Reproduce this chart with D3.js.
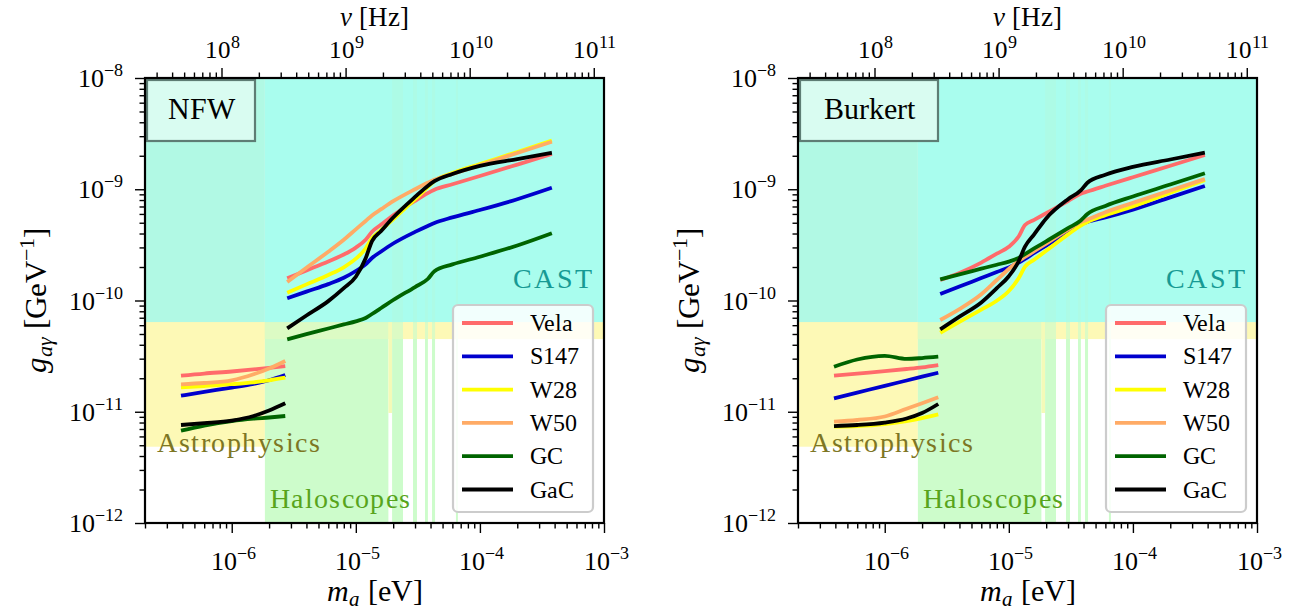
<!DOCTYPE html>
<html><head><meta charset="utf-8">
<script src="https://cdn.jsdelivr.net/npm/d3@7"></script>
<style>
@font-face{font-family:"SerifX";font-style:normal;src:local("Liberation Serif"),local("LiberationSerif"),local("LiberationSerif-Regular"),local("DejaVu Serif"),local("DejaVuSerif");}
@font-face{font-family:"SerifX";font-style:italic;src:local("Liberation Serif Italic"),local("LiberationSerif-Italic"),local("DejaVu Serif Italic"),local("DejaVuSerif-Italic");}
body{margin:0;background:#fff;}
</style>
</head><body>
<svg id="c" width="1295" height="612"></svg>
<script>
// ---------- data ----------
const seriesNames = ["Vela","S147","W28","W50","GC","GaC"];
const seriesColors = ["#ff6b6b","#0000cd","#ffff00","#ffab66","#006400","#000000"];
const massLow  = [3.9e-7, 6e-7, 1e-6, 1.5e-6, 2e-6, 2.7e-6];
const massHigh = [2.8e-6,4e-6,6e-6,8e-6,1e-5,1.2e-5,1.35e-5,1.6e-5,2e-5,3e-5,3.8e-5,4.3e-5,6e-5,1e-4,2e-4,3.8e-4];

// NFW profile, g_agamma [GeV^-1]
const nfwVelaLow = [2.108e-11,2.206e-11,2.30e-11,2.40e-11,2.483e-11,2.577e-11];
const nfwS147Low = [1.394e-11,1.508e-11,1.651e-11,1.783e-11,1.921e-11,2.139e-11];
const nfwW28Low  = [1.658e-11,1.703e-11,1.768e-11,1.839e-11,1.917e-11,2.022e-11];
const nfwW50Low  = [1.765e-11,1.813e-11,1.917e-11,2.17e-11,2.447e-11,2.858e-11];
const nfwGCLow   = [6.76e-12,7.52e-12,8.25e-12,8.66e-12,8.88e-12,9.16e-12];
const nfwGaCLow  = [7.60e-12,7.89e-12,8.34e-12,9.16e-12,1.026e-11,1.191e-11];

const nfwVelaHigh = [1.583e-10,1.864e-10,2.246e-10,2.59e-10,2.99e-10,3.52e-10,4.15e-10,4.81e-10,5.83e-10,7.86e-10,9.23e-10,9.91e-10,1.108e-9,1.315e-9,1.665e-9,2.074e-9];
const nfwS147High = [1.046e-10,1.202e-10,1.404e-10,1.600e-10,1.841e-10,2.115e-10,2.410e-10,2.757e-10,3.253e-10,4.135e-10,4.683e-10,4.973e-10,5.58e-10,6.51e-10,8.14e-10,1.032e-9];
const nfwW28High  = [1.175e-10,1.396e-10,1.695e-10,1.988e-10,2.375e-10,2.934e-10,3.63e-10,4.30e-10,5.37e-10,8.14e-10,1.045e-9,1.186e-9,1.400e-9,1.686e-9,2.162e-9,2.743e-9];
const nfwW50High  = [1.466e-10,1.972e-10,2.745e-10,3.52e-10,4.36e-10,5.19e-10,5.82e-10,6.62e-10,7.81e-10,1.001e-9,1.143e-9,1.216e-9,1.371e-9,1.645e-9,2.118e-9,2.676e-9];
const nfwGCHigh   = [4.48e-11,4.98e-11,5.60e-11,6.10e-11,6.50e-11,6.96e-11,7.56e-11,8.56e-11,1.010e-10,1.322e-10,1.560e-10,1.833e-10,2.11e-10,2.475e-10,3.12e-10,4.02e-10];
const nfwGaCHigh  = [5.62e-11,7.33e-11,9.87e-11,1.290e-10,1.636e-10,2.395e-10,3.42e-10,4.22e-10,5.57e-10,8.53e-10,1.072e-9,1.181e-9,1.371e-9,1.621e-9,1.870e-9,2.13e-9];

// Burkert profile
const burVelaLow = [2.108e-11,2.202e-11,2.314e-11,2.422e-11,2.509e-11,2.63e-11];
const burS147Low = [1.321e-11,1.486e-11,1.711e-11,1.909e-11,2.065e-11,2.243e-11];
const burW28Low  = [7.34e-12,7.44e-12,7.76e-12,8.25e-12,8.78e-12,9.48e-12];
const burW50Low  = [8.14e-12,8.43e-12,9.06e-12,1.063e-11,1.191e-11,1.348e-11];
const burGCLow   = [2.54e-11,2.949e-11,3.184e-11,2.99e-11,3.04e-11,3.125e-11];
const burGaCLow  = [7.44e-12,7.60e-12,8.00e-12,8.70e-12,9.74e-12,1.174e-11];

const burVelaHigh = [1.528e-10,1.767e-10,2.191e-10,2.634e-10,3.038e-10,3.76e-10,4.77e-10,5.30e-10,6.09e-10,7.84e-10,9.10e-10,9.54e-10,1.074e-9,1.283e-9,1.628e-9,2.032e-9];
const burS147High = [1.144e-10,1.336e-10,1.59e-10,1.80e-10,1.98e-10,2.186e-10,2.37e-10,2.673e-10,3.12e-10,4.135e-10,4.88e-10,5.09e-10,5.58e-10,6.55e-10,8.45e-10,1.070e-9];
const burW28High  = [5.13e-11,6.42e-11,8.28e-11,9.94e-11,1.217e-10,1.587e-10,2.013e-10,2.322e-10,2.797e-10,3.928e-10,4.72e-10,5.08e-10,5.84e-10,7.00e-10,9.29e-10,1.211e-9];
const burW50High  = [6.68e-11,8.38e-11,1.139e-10,1.528e-10,1.919e-10,2.265e-10,2.46e-10,2.774e-10,3.246e-10,4.33e-10,5.08e-10,5.35e-10,6.22e-10,7.54e-10,9.74e-10,1.236e-9];
const burGCHigh   = [1.551e-10,1.72e-10,1.931e-10,2.097e-10,2.237e-10,2.419e-10,2.617e-10,2.934e-10,3.405e-10,4.466e-10,5.236e-10,5.99e-10,7.08e-10,8.61e-10,1.103e-9,1.391e-9];
const burGaCHigh  = [5.51e-11,7.15e-11,9.59e-11,1.290e-10,1.653e-10,2.251e-10,3.044e-10,3.928e-10,5.47e-10,8.14e-10,9.76e-10,1.145e-9,1.351e-9,1.591e-9,1.851e-9,2.13e-9];

// Exclusion regions
const castLimit = 6.4e-11;           // CAST: g above this
const astroBandLow = 4.5e-11;        // astrophysics band across all masses
const astroLowMassEdge = 1.85e-6;    // astrophysics (low mass) region edge
const astroLowMassG = 4.85e-12;
const haloMain = [1.85e-6, 1.83e-5];
const haloYellowCol = [1.83e-5, 1.96e-5, 9.75e-12];
const haloStrips = [[1.96e-5,2.40e-5],[2.89e-5,3.11e-5],[3.61e-5,3.81e-5],[4.11e-5,4.35e-5],[6.41e-5,6.65e-5]];

const xTickMajor = [1e-6,1e-5,1e-4,1e-3];
const xTickExp = ["−6","−5","−4","−3"];
const yTickMajor = [1e-12,1e-11,1e-10,1e-9,1e-8];
const yTickExp = ["−12","−11","−10","−9","−8"];
const nuTickMajor = [1e8,1e9,1e10,1e11];
const nuTickExp = ["8","9","10","11"];
const evPerHz = 8.27e-15;

const xDomain = [2e-7, 1e-3];
const yDomain = [1e-12, 1e-8];

// ---------- drawing ----------
const FONT = "'SerifX', 'Liberation Serif', 'Times New Roman', 'DejaVu Serif', serif";
const svg = d3.select("#c");

function txt(sel, x, y, size, anchor){
  return sel.append("text").attr("x", x).attr("y", y).attr("text-anchor", anchor || "start")
    .attr("font-family", FONT).style("font-family", FONT).style("font-size", size+"px").style("fill", "#000");
}
function sup(sel, base, exp, x, y, anchor, size){
  const t = txt(sel, x, y, size, anchor);
  t.append("tspan").text(base);
  t.append("tspan").attr("dy", -size*0.42).style("font-size", (size*0.7)+"px").text(exp);
  return t;
}

function panel(left, label, boxW, data){
  const right = left + 459, top = 78, bottom = 523;
  const x = d3.scaleLog().domain(xDomain).range([left, right]);
  const y = d3.scaleLog().domain(yDomain).range([bottom, top]);
  const g = svg.append("g");

  const rect = (m0, m1, g0, g1, col) => g.append("rect")
    .attr("x", x(m0)).attr("width", x(m1)-x(m0))
    .attr("y", y(g1)).attr("height", y(g0)-y(g1)).attr("fill", col);
  // astrophysics
  rect(xDomain[0], astroLowMassEdge, astroLowMassG, castLimit, "#fdf9b6");
  rect(xDomain[0], xDomain[1], astroBandLow, castLimit, "#fdf9b6");
  // haloscopes
  rect(haloMain[0], haloMain[1], yDomain[0], castLimit, "#cdfccb");
  rect(haloMain[0], haloMain[1], astroBandLow, castLimit, "#dcfbc4");
  rect(haloYellowCol[0], haloYellowCol[1], haloYellowCol[2], castLimit, "#f4fab8");
  haloStrips.forEach(s => {
    rect(s[0], s[1], yDomain[0], castLimit, "#cdfccb");
    rect(s[0], s[1], astroBandLow, castLimit, "#dcfbc4");
  });
  // CAST
  rect(xDomain[0], astroLowMassEdge, castLimit, yDomain[1], "#b1f9e4");
  rect(astroLowMassEdge, xDomain[1], castLimit, yDomain[1], "#a9fdee");
  haloStrips.forEach(s => rect(s[0], s[1], castLimit, yDomain[1], "#adfbe6"));

  // region labels
  txt(g, x(8.0e-4), y(1.29e-10), 28, "end").attr("textLength", 79).style("fill","#179a94").text("CAST");
  txt(g, x(2.5e-7), y(4.35e-12), 28).attr("textLength", 163).style("fill","#7d7624").text("Astrophysics");
  txt(g, x(2.03e-6), y(1.365e-12), 28).attr("textLength", 140).style("fill","#58a41c").text("Haloscopes");

  // curves
  const line = d3.line().x(d => x(d[0])).y(d => y(d[1])).curve(d3.curveMonotoneX);
  data.forEach((s, i) => {
    [[massLow, s[0]], [massHigh, s[1]]].forEach(([ms, gs]) => {
      g.append("path").datum(ms.map((m, j) => [m, gs[j]]))
        .attr("d", line).attr("fill","none").attr("stroke", seriesColors[i])
        .attr("stroke-width", 3.8).attr("stroke-linejoin","round");
    });
  });

  // profile label box
  g.append("rect").attr("x", left+2).attr("y", top+2).attr("width", boxW).attr("height", 61)
    .attr("fill","#d9fcf1").attr("stroke","#5e7d74").attr("stroke-width",2.2);
  txt(g, left+2+boxW/2, top+41, 30, "middle").text(label);

  // legend
  const lx = left + 308, ly = 305;
  g.append("rect").attr("x", lx).attr("y", ly).attr("width", 140).attr("height", 207).attr("rx", 5)
    .attr("fill","#fff").attr("fill-opacity",0.85).attr("stroke","#cccccc").attr("stroke-width",2.2);
  seriesNames.forEach((n, i) => {
    const yy = ly + 18 + i*33.3;
    g.append("line").attr("x1", lx+9).attr("x2", lx+60).attr("y1", yy).attr("y2", yy)
      .attr("stroke", seriesColors[i]).attr("stroke-width", 3.8);
    txt(g, lx+77, yy+8, 24).text(n);
  });

  // axes
  const isMinor = v => Math.abs(Math.log10(v) - Math.round(Math.log10(v))) > 1e-6;
  const minorX = x.ticks().filter(isMinor);
  const minorY = y.ticks().filter(isMinor);
  const nu = d3.scaleLog().domain([xDomain[0]/evPerHz, xDomain[1]/evPerHz]).range([left, right]);
  const minorNu = nu.ticks().filter(isMinor);

  const styleAxis = a => { a.select(".domain").remove(); a.selectAll("line").attr("stroke","#000").attr("stroke-width",1.4); };
  g.append("g").attr("transform",`translate(0,${bottom})`).call(d3.axisBottom(x).tickValues(minorX).tickSize(5.5).tickFormat("")).call(styleAxis);
  g.append("g").attr("transform",`translate(0,${bottom})`).call(d3.axisBottom(x).tickValues(xTickMajor).tickSize(10).tickFormat("")).call(styleAxis);
  g.append("g").attr("transform",`translate(0,${top})`).call(d3.axisTop(nu).tickValues(minorNu).tickSize(5.5).tickFormat("")).call(styleAxis);
  g.append("g").attr("transform",`translate(0,${top})`).call(d3.axisTop(nu).tickValues(nuTickMajor).tickSize(10).tickFormat("")).call(styleAxis);
  g.append("g").attr("transform",`translate(${left},0)`).call(d3.axisLeft(y).tickValues(minorY).tickSize(5.5).tickFormat("")).call(styleAxis);
  g.append("g").attr("transform",`translate(${left},0)`).call(d3.axisLeft(y).tickValues(yTickMajor).tickSize(10).tickFormat("")).call(styleAxis);

  g.append("rect").attr("x", left).attr("y", top).attr("width", right-left).attr("height", bottom-top)
    .attr("fill","none").attr("stroke","#000").attr("stroke-width",2.2);

  xTickMajor.forEach((v, i) => sup(g, "10", xTickExp[i], x(v)+2, 570, "middle", 26));
  nuTickMajor.forEach((v, i) => sup(g, "10", nuTickExp[i], nu(v)+1, 58, "middle", 25));
  yTickMajor.forEach((v, i) => sup(g, "10", yTickExp[i], left-22, y(v)+9, "end", 26));

  // axis titles
  const mid = (left+right)/2;
  const xt = txt(g, mid, 601, 30, "middle");
  xt.append("tspan").style("font-style","italic").text("m");
  xt.append("tspan").attr("dy",5).style("font-size","21px").style("font-style","italic").text("a");
  xt.append("tspan").attr("dy",-5).text("  [eV]");
  const tt = txt(g, mid, 26, 27, "middle");
  tt.append("tspan").style("font-style","italic").text("ν");
  tt.append("tspan").text("  [Hz]");
  const yt = g.append("text").attr("transform",`translate(${left-99},${(top+bottom)/2}) rotate(-90)`)
    .attr("text-anchor","middle").attr("font-family", FONT).style("font-family", FONT).style("font-size","31px");
  yt.append("tspan").style("font-style","italic").text("g");
  yt.append("tspan").attr("dy",6).style("font-size","22px").style("font-style","italic").text("aγ");
  yt.append("tspan").attr("dy",-6).text("  [GeV");
  yt.append("tspan").attr("dy",-12).style("font-size","22px").text("−1");
  yt.append("tspan").attr("dy",12).text("]");
}

panel(145, "NFW", 108, [
  [nfwVelaLow, nfwVelaHigh],[nfwS147Low, nfwS147High],[nfwW28Low, nfwW28High],
  [nfwW50Low, nfwW50High],[nfwGCLow, nfwGCHigh],[nfwGaCLow, nfwGaCHigh]]);
panel(798, "Burkert", 138, [
  [burVelaLow, burVelaHigh],[burS147Low, burS147High],[burW28Low, burW28High],
  [burW50Low, burW50High],[burGCLow, burGCHigh],[burGaCLow, burGaCHigh]]);
</script>
</body></html>
